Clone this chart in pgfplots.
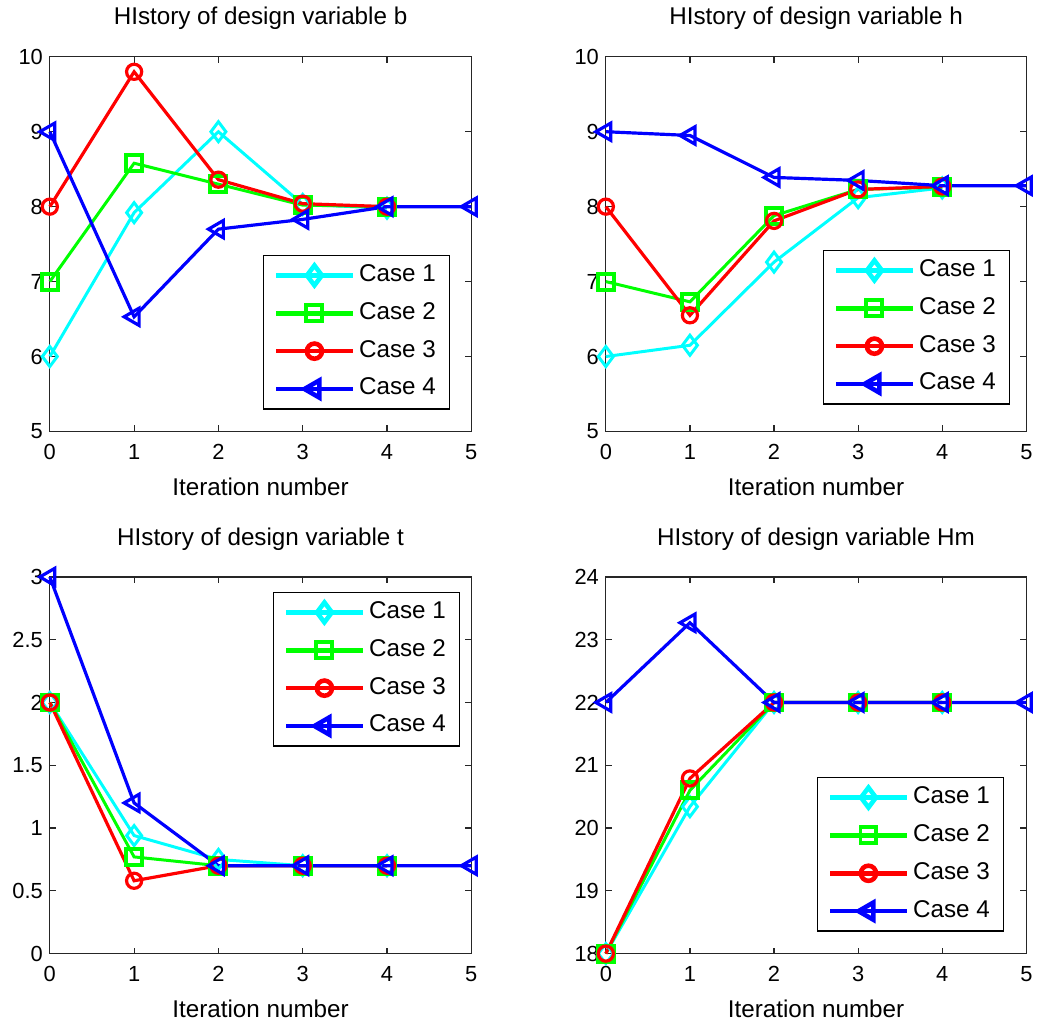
\documentclass[border=0pt]{standalone}
\usepackage{fontspec}
\setmainfont{Liberation Sans}
\usepackage{pgfplots}
\pgfplotsset{compat=1.18}
\definecolor{mcyan}{RGB}{0,255,255}
\definecolor{mgreen}{RGB}{0,255,0}
\definecolor{mred}{RGB}{255,0,0}
\definecolor{mblue}{RGB}{0,0,255}
\pgfplotsset{
  panel/.style={
    scale only axis, width=211.5bp,
    xmin=0, xmax=5, xtick={0,...,5},
    clip=false,
    tick align=inside, major tick length=3bp,
    axis line style={line width=0.6bp, black!85},
    every tick/.style={black!85, line width=0.6bp},
    tick label style={font=\fontsize{11}{13}\selectfont},
    /pgf/number format/assume math mode=true,
    title style={at={(axis description cs:0.5,1)}, anchor=base, yshift=10bp, font=\fontsize{12.2}{14}\selectfont},
    xlabel={Iteration number},
    xlabel style={at={(axis description cs:0.5,0)}, anchor=base, yshift=-32bp, font=\fontsize{12.2}{14}\selectfont},
    xticklabel style={anchor=base, yshift=-14bp},
    legend cell align=left,
    legend image code/.code={\draw[mark repeat=2,mark phase=2,##1,line width=2.3bp] plot coordinates {(0bp,0bp)(19.25bp,0bp)(38.5bp,0bp)};},
    legend style={font=\fontsize{12.2}{14}\selectfont, draw=black, line width=0.6bp, fill=white,
      inner xsep=5bp, inner ysep=2bp, row sep=3bp,
      nodes={inner sep=2bp, text height=9bp, text depth=3bp}},
  },
  c1/.style={mcyan, line width=1.5bp, mark=diamond, mark size=5bp},
  c2/.style={mgreen, line width=1.5bp, mark=square, mark size=4bp, mark options={line width=2bp}},
  c3/.style={mred, line width=1.6bp, mark=o, mark size=3.8bp},
  c4/.style={mblue, line width=1.6bp, mark=triangle, mark size=5bp, mark options={rotate=90}},
}
\begin{document}
\begin{tikzpicture}
\path (0,0) rectangle (519.5bp,510.5bp);
% b
\begin{axis}[panel, at={(25bp,294bp)}, anchor=south west, height=188bp,
  ymin=5, ymax=10, ytick={5,...,10}, title={HIstory of design variable b},
  legend style={at={(axis description cs:1,0)}, anchor=south east, xshift=-10.5bp, yshift=11bp}]
\addplot[c1] coordinates {(0,6) (1,7.92) (2,9.0) (3,8.03) (4,7.98)};
\addplot[c2] coordinates {(0,7) (1,8.58) (2,8.30) (3,8.02) (4,8.0)};
\addplot[c3] coordinates {(0,8) (1,9.8) (2,8.36) (3,8.04) (4,8.0)};
\addplot[c4] coordinates {(0,9) (1,6.53) (2,7.70) (3,7.83) (4,8.0) (5,8.0)};
\legend{Case 1, Case 2, Case 3, Case 4}
\end{axis}
% h
\begin{axis}[panel, at={(304bp,294bp)}, anchor=south west, height=188bp, width=211bp,
  ymin=5, ymax=10, ytick={5,...,10}, title={HIstory of design variable h},
  legend style={at={(axis description cs:1,0)}, anchor=south east, xshift=-8bp, yshift=13.5bp}]
\addplot[c1] coordinates {(0,6) (1,6.15) (2,7.26) (3,8.12) (4,8.25)};
\addplot[c2] coordinates {(0,7) (1,6.73) (2,7.88) (3,8.23) (4,8.26)};
\addplot[c3] coordinates {(0,8) (1,6.55) (2,7.81) (3,8.23) (4,8.27)};
\addplot[c4] coordinates {(0,9) (1,8.95) (2,8.39) (3,8.35) (4,8.28) (5,8.28)};
\legend{Case 1, Case 2, Case 3, Case 4}
\end{axis}
% t
\begin{axis}[panel, at={(25bp,32bp)}, anchor=south west, height=189bp,
  ymin=0, ymax=3, ytick={0,0.5,...,3}, title={HIstory of design variable t},
  yticklabel style={/pgf/number format/fixed},
  legend style={at={(axis description cs:1,1)}, anchor=north east, xshift=-5.5bp, yshift=-7.5bp}]
\addplot[c1] coordinates {(0,2) (1,0.94) (2,0.75) (3,0.70) (4,0.70)};
\addplot[c2] coordinates {(0,2) (1,0.77) (2,0.70) (3,0.70) (4,0.70)};
\addplot[c3] coordinates {(0,2) (1,0.58) (2,0.70) (3,0.70) (4,0.70)};
\addplot[c4] coordinates {(0,3) (1,1.20) (2,0.70) (3,0.70) (4,0.70) (5,0.70)};
\legend{Case 1, Case 2, Case 3, Case 4}
\end{axis}
% Hm
\begin{axis}[panel, at={(304bp,32bp)}, anchor=south west, height=189bp, width=211bp,
  ymin=18, ymax=24, ytick={18,...,24}, title={HIstory of design variable Hm},
  legend style={at={(axis description cs:1,0)}, anchor=south east, xshift=-11bp, yshift=11bp}]
\addplot[c1] coordinates {(0,18) (1,20.34) (2,22) (3,22) (4,22)};
\addplot[c2] coordinates {(0,18) (1,20.6) (2,22) (3,22) (4,22)};
\addplot[c3] coordinates {(0,18) (1,20.79) (2,22) (3,22) (4,22)};
\addplot[c4] coordinates {(0,22) (1,23.27) (2,22) (3,22) (4,22) (5,22)};
\legend{Case 1, Case 2, Case 3, Case 4}
\end{axis}
\end{tikzpicture}
\end{document}
